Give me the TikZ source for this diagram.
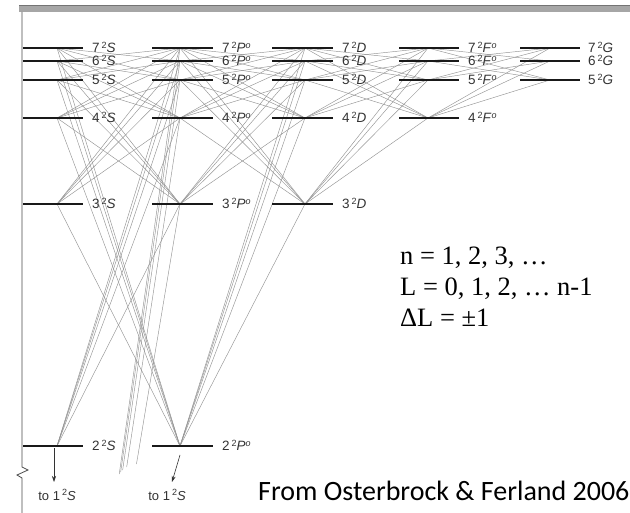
\documentclass[tikz,border=0pt]{standalone}
\usepackage{fontspec}
\setmainfont{Liberation Sans}
\newfontfamily\tmsfont{Liberation Serif}
\newfontfamily\calfont{Carlito}
\usetikzlibrary{calc,arrows.meta}
\newcommand{\lvsup}[1]{\raisebox{0.33em}{\fontsize{9}{9}\selectfont #1}}
\begin{document}
\begin{tikzpicture}[x=1pt,y=-1pt,
  trans/.style={draw=black!42, line width=0.45pt},
  levelline/.style={line width=2.4pt, draw=black!90},
  lab/.style={anchor=base west, inner sep=0pt, font=\fontsize{13.5}{13.5}\selectfont, text=black!80},
  tolab/.style={anchor=base, inner sep=0pt, font=\fontsize{13}{13}\selectfont, text=black!80},
  axisline/.style={draw=black!70, line width=0.8pt},
  decay/.style={draw=black!80, line width=0.6pt, -{Stealth[length=6pt,width=4pt]}},
  rules/.style={anchor=base west, inner sep=0pt, font=\tmsfont\fontsize{26.5}{26.5}\selectfont},
  srctext/.style={anchor=base west, inner sep=0pt, font=\calfont\fontsize{28}{28}\selectfont}
  ]
\useasboundingbox (0,0) rectangle (630,513);
\fill[white] (0,0) rectangle (630,513);
% top band
\fill[black!35] (19,5) rectangle (630,12);
\draw[black!55, line width=0.5pt] (19,5) -- (630,5);
% axis with break
\draw[axisline] (22,12) -- (22,467) -- (28,470) -- (17,475) -- (22,478) -- (22,513);
% level points
\foreach \n/\y in {2/446,3/204,4/118,5/80,6/61,7/48} {
  \coordinate (s\n) at (57,\y);
  \coordinate (p\n) at (180,\y);
}
\foreach \n/\y in {3/204,4/118,5/80,6/61,7/48} \coordinate (d\n) at (305,\y);
\foreach \n/\y in {4/118,5/80,6/61,7/48} \coordinate (f\n) at (428,\y);
\foreach \n/\y in {5/80,6/61,7/48} \coordinate (g\n) at (550,\y);
\coordinate (ones) at (30,1100);
% transitions
\foreach \a in {2,...,7} \foreach \b in {2,...,7} {\ifnum\a=\b\else \draw[trans] (s\a) -- (p\b);\fi}
\foreach \a in {2,...,7} \foreach \b in {3,...,7} {\ifnum\a=\b\else \draw[trans] (p\a) -- (d\b);\fi}
\foreach \a in {3,...,7} \foreach \b in {4,...,7} {\ifnum\a=\b\else \draw[trans] (d\a) -- (f\b);\fi}
\foreach \a in {4,...,7} \foreach \b in {5,...,7} {\ifnum\a=\b\else \draw[trans] (f\a) -- (g\b);\fi}
% nP -> 1S (cut off)
\foreach \n/\t in {3/0.2902,4/0.3554,5/0.3824,6/0.3956,7/0.405}
  \draw[trans] (p\n) -- ($(p\n)!\t!(ones)$);
% levels and labels
\foreach \n/\y in {2/446,3/204,4/118,5/80,6/61,7/48} {
  \draw[levelline] (23,\y) -- (83,\y);
  \node[lab] (ls\n) at (92,\y+4.5) {\n\kern2pt\lvsup{2}\textit{S}};
  \draw[levelline] (152,\y) -- (213,\y);
  \node[lab] (lp\n) at (222,\y+4.5) {\n\kern2pt\lvsup{2}\textit{P}\lvsup{\textit{o}}};
}
\foreach \n/\y in {3/204,4/118,5/80,6/61,7/48} {
  \draw[levelline] (272,\y) -- (333,\y);
  \node[lab] (ld\n) at (342,\y+4.5) {\n\kern2pt\lvsup{2}\textit{D}};
}
\foreach \n/\y in {4/118,5/80,6/61,7/48} {
  \draw[levelline] (399,\y) -- (459,\y);
  \node[lab] (lf\n) at (468,\y+4.5) {\n\kern2pt\lvsup{2}\textit{F}\lvsup{\textit{o}}};
}
\foreach \n/\y in {5/80,6/61,7/48} {
  \draw[levelline] (520,\y) -- (580,\y);
  \node[lab] (lg\n) at (588,\y+4.5) {\n\kern2pt\lvsup{2}\textit{G}};
}
% decays to 1S
\coordinate (e1) at (54,482);
\coordinate (e2) at (172,482);
\draw[decay] ($(s2)+(-3,2)$) -- (e1);
\draw[decay] ($(p2)+(0,9)$) -- (e2);
\node[tolab] (t1) at (57,500) {to 1\kern2pt\lvsup{2}\textit{S}};
\node[tolab] (t2) at (167,500) {to 1\kern2pt\lvsup{2}\textit{S}};
% rules
\node[rules] (r1) at (400,265) {n = 1, 2, 3, …};
\node[rules] (r2) at (400,296) {L = 0, 1, 2, … n-1};
\node[rules] (r3) at (400,327) {ΔL = ±1};
% source
\node[srctext] (src) at (258,500) {From Osterbrock \& Ferland 2006};
\end{tikzpicture}
\end{document}
